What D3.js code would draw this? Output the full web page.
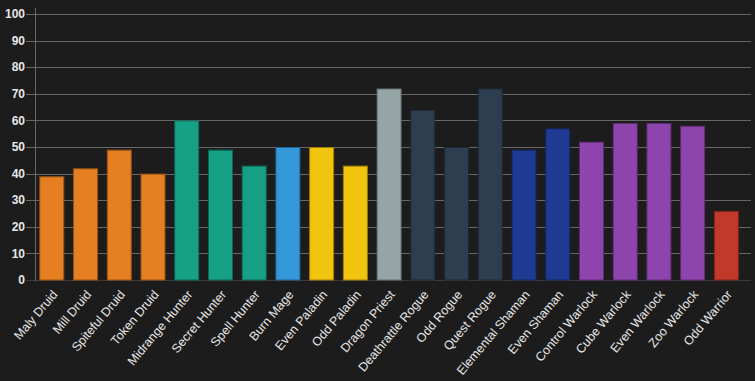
<!DOCTYPE html>
<html>
<head>
<meta charset="utf-8">
<script src="https://cdn.jsdelivr.net/npm/d3@7"></script>
<style>
html,body{margin:0;padding:0;background:#1c1c1c;}
svg{display:block;}
</style>
</head>
<body>
<svg id="chart" width="755" height="381"></svg>
<script>
const categories = ["Maly Druid","Mill Druid","Spiteful Druid","Token Druid","Midrange Hunter","Secret Hunter","Spell Hunter","Burn Mage","Even Paladin","Odd Paladin","Dragon Priest","Deathrattle Rogue","Odd Rogue","Quest Rogue","Elemental Shaman","Even Shaman","Control Warlock","Cube Warlock","Even Warlock","Zoo Warlock","Odd Warrior"];
const values = [39,42,49,40,60,49,43,50,50,43,72,64,50,72,49,57,52,59,59,58,26];
const classes = ["Druid","Druid","Druid","Druid","Hunter","Hunter","Hunter","Mage","Paladin","Paladin","Priest","Rogue","Rogue","Rogue","Shaman","Shaman","Warlock","Warlock","Warlock","Warlock","Warrior"];
const classNames = ["Druid","Hunter","Mage","Paladin","Priest","Rogue","Shaman","Warlock","Warrior"];
const classColors = ["#e67e22","#16a085","#3498db","#f1c40f","#95a5a6","#2c3e50","#1f3a93","#8e44ad","#c0392b"];
const yTicks = [0,10,20,30,40,50,60,70,80,90,100];

(function(){
const svg = d3.select("#chart");
const mLeft = 35.5, mTop = 14, mBottom = 280, gridRight = 751;

const color = d3.scaleOrdinal().domain(classNames).range(classColors);
const y = d3.scaleLinear().domain([0,100]).range([mBottom, mTop]);
const x = d3.scaleBand().domain(categories).range([mLeft, 742.7]).paddingInner(0.259).paddingOuter(0.113);

svg.append("g").selectAll("line").data(yTicks.filter(d => d > 0)).join("line")
  .attr("x1", 26).attr("x2", gridRight)
  .attr("y1", d => Math.round(y(d)) + 0.5).attr("y2", d => Math.round(y(d)) + 0.5)
  .attr("stroke", "#676767").attr("stroke-width", 1);

svg.append("line").attr("x1", 26).attr("x2", gridRight)
  .attr("y1", mBottom + 0.5).attr("y2", mBottom + 0.5)
  .attr("stroke", "#3a3a3a");

svg.append("line").attr("x1", mLeft).attr("x2", mLeft)
  .attr("y1", 8).attr("y2", mBottom + 1)
  .attr("stroke", "#676767");

svg.append("g").selectAll("rect").data(categories).join("rect")
  .attr("x", d => x(d) + 0.5)
  .attr("y", (d,i) => y(values[i]) + 0.5)
  .attr("width", x.bandwidth() - 1)
  .attr("height", (d,i) => mBottom - y(values[i]) - 0.5)
  .attr("fill", (d,i) => color(classes[i]))
  .attr("stroke", (d,i) => d3.color(color(classes[i])).darker(1.2))
  .attr("stroke-width", 1);

svg.append("g").selectAll("text").data(yTicks).join("text")
  .attr("x", 25).attr("y", d => y(d))
  .attr("dy", "0.35em")
  .attr("text-anchor", "end")
  .attr("font-family", "Liberation Sans, Arial, sans-serif")
  .attr("font-size", 12).attr("font-weight", "bold")
  .attr("fill", "#e6e6e6")
  .text(d => d);

svg.append("g").selectAll("text").data(categories).join("text")
  .attr("transform", d => `translate(${x(d) + x.bandwidth()/2 + 3},${mBottom + 12}) rotate(-50)`)
  .attr("text-anchor", "end")
  .attr("dy", "0.35em")
  .attr("font-family", "Liberation Sans, Arial, sans-serif")
  .attr("font-size", 12.5)
  .attr("fill", "#e6e6e6")
  .text(d => d);
})();
</script>
</body>
</html>
